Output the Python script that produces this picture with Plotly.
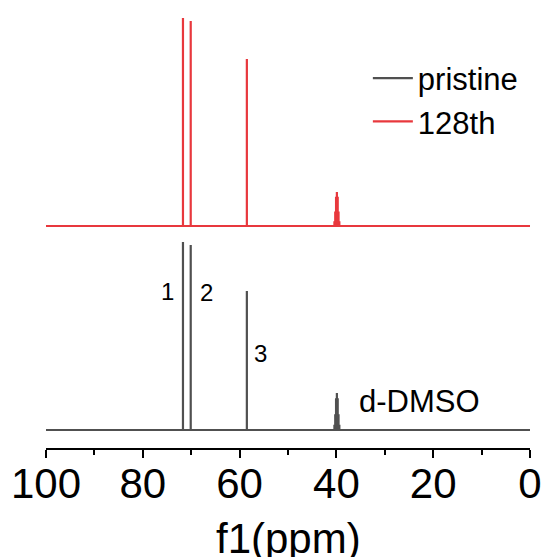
import plotly.graph_objects as go

# ---- data ----
peak_ppm = [71.7, 70.1, 58.5]
pristine_heights = [1.88, 1.85, 1.39]
cycled_heights = [2.08, 2.05, 1.67]

dmso_center = 39.9
dmso_offsets = [-0.51, -0.34, -0.17, 0.0, 0.17, 0.34, 0.51]
dmso_rel = [1, 3, 6, 7, 6, 3, 1]
pristine_dmso_top = 0.37
cycled_dmso_top = 0.34

cycled_offset = 2.04
x_start, x_end = 100, 0

peak_labels = ["1", "2", "3", "d-DMSO"]
label_ppm = [75.0, 66.9, 55.6, 22.9]
label_y = [1.39, 1.38, 0.77, 0.29]

GRAY = "#505050"
RED = "#e8383d"


def stick_spectrum(heights, dmso_top, offset):
    peaks = [(p, h) for p, h in zip(peak_ppm, heights)]
    peaks += [(dmso_center + o, dmso_top * r / max(dmso_rel)) for o, r in zip(dmso_offsets, dmso_rel)]
    peaks.sort(key=lambda t: -t[0])
    xs, ys = [x_start], [offset]
    for p, h in peaks:
        xs += [p, p, p]
        ys += [offset, offset + h, offset]
    xs.append(x_end)
    ys.append(offset)
    return xs, ys


fig = go.Figure()
px_, py_ = stick_spectrum(pristine_heights, pristine_dmso_top, 0.0)
fig.add_trace(go.Scatter(x=px_, y=py_, mode="lines", name="pristine",
                         line=dict(color=GRAY, width=2.2)))
cx_, cy_ = stick_spectrum(cycled_heights, cycled_dmso_top, cycled_offset)
fig.add_trace(go.Scatter(x=cx_, y=cy_, mode="lines", name="128th",
                         line=dict(color=RED, width=2.2)))

for t, xv, yv, fs in zip(peak_labels, label_ppm, label_y, [24, 24, 24, 31]):
    fig.add_annotation(x=xv, y=yv, text=t, showarrow=False,
                       font=dict(size=fs, color="black"))

# axis title as a paper-anchored annotation
fig.add_annotation(x=0.5, y=-0.145, xref="paper", yref="paper",
                   xanchor="center", yanchor="top", text="f1(ppm)",
                   showarrow=False, font=dict(size=42, color="black"))

FONT = "Liberation Sans, Arial, sans-serif"
fig.update_layout(
    width=546, height=557,
    margin=dict(l=46, r=16, t=0, b=109),
    paper_bgcolor="white", plot_bgcolor="white",
    font=dict(family=FONT, color="black"),
    showlegend=True,
    legend=dict(x=0.665, y=0.885, xanchor="left", yanchor="top",
                font=dict(size=31, color="black"),
                bgcolor="rgba(0,0,0,0)", itemwidth=40, tracegroupgap=0),
    xaxis=dict(range=[100, 0], showgrid=False, zeroline=False,
               showline=True, linecolor="black", linewidth=1.5,
               ticks="outside", ticklen=8, tickwidth=1.5, tickcolor="black",
               tickvals=[100, 80, 60, 40, 20, 0],
               ticklabelstandoff=-10,
               minor=dict(ticks="outside", ticklen=5, tickwidth=1.5,
                          tickcolor="black", dtick=10),
               tickfont=dict(size=42, color="black")),
    yaxis=dict(range=[-0.18, 4.30], visible=False, showgrid=False,
               zeroline=False),
)

fig.write_html("out.html")
